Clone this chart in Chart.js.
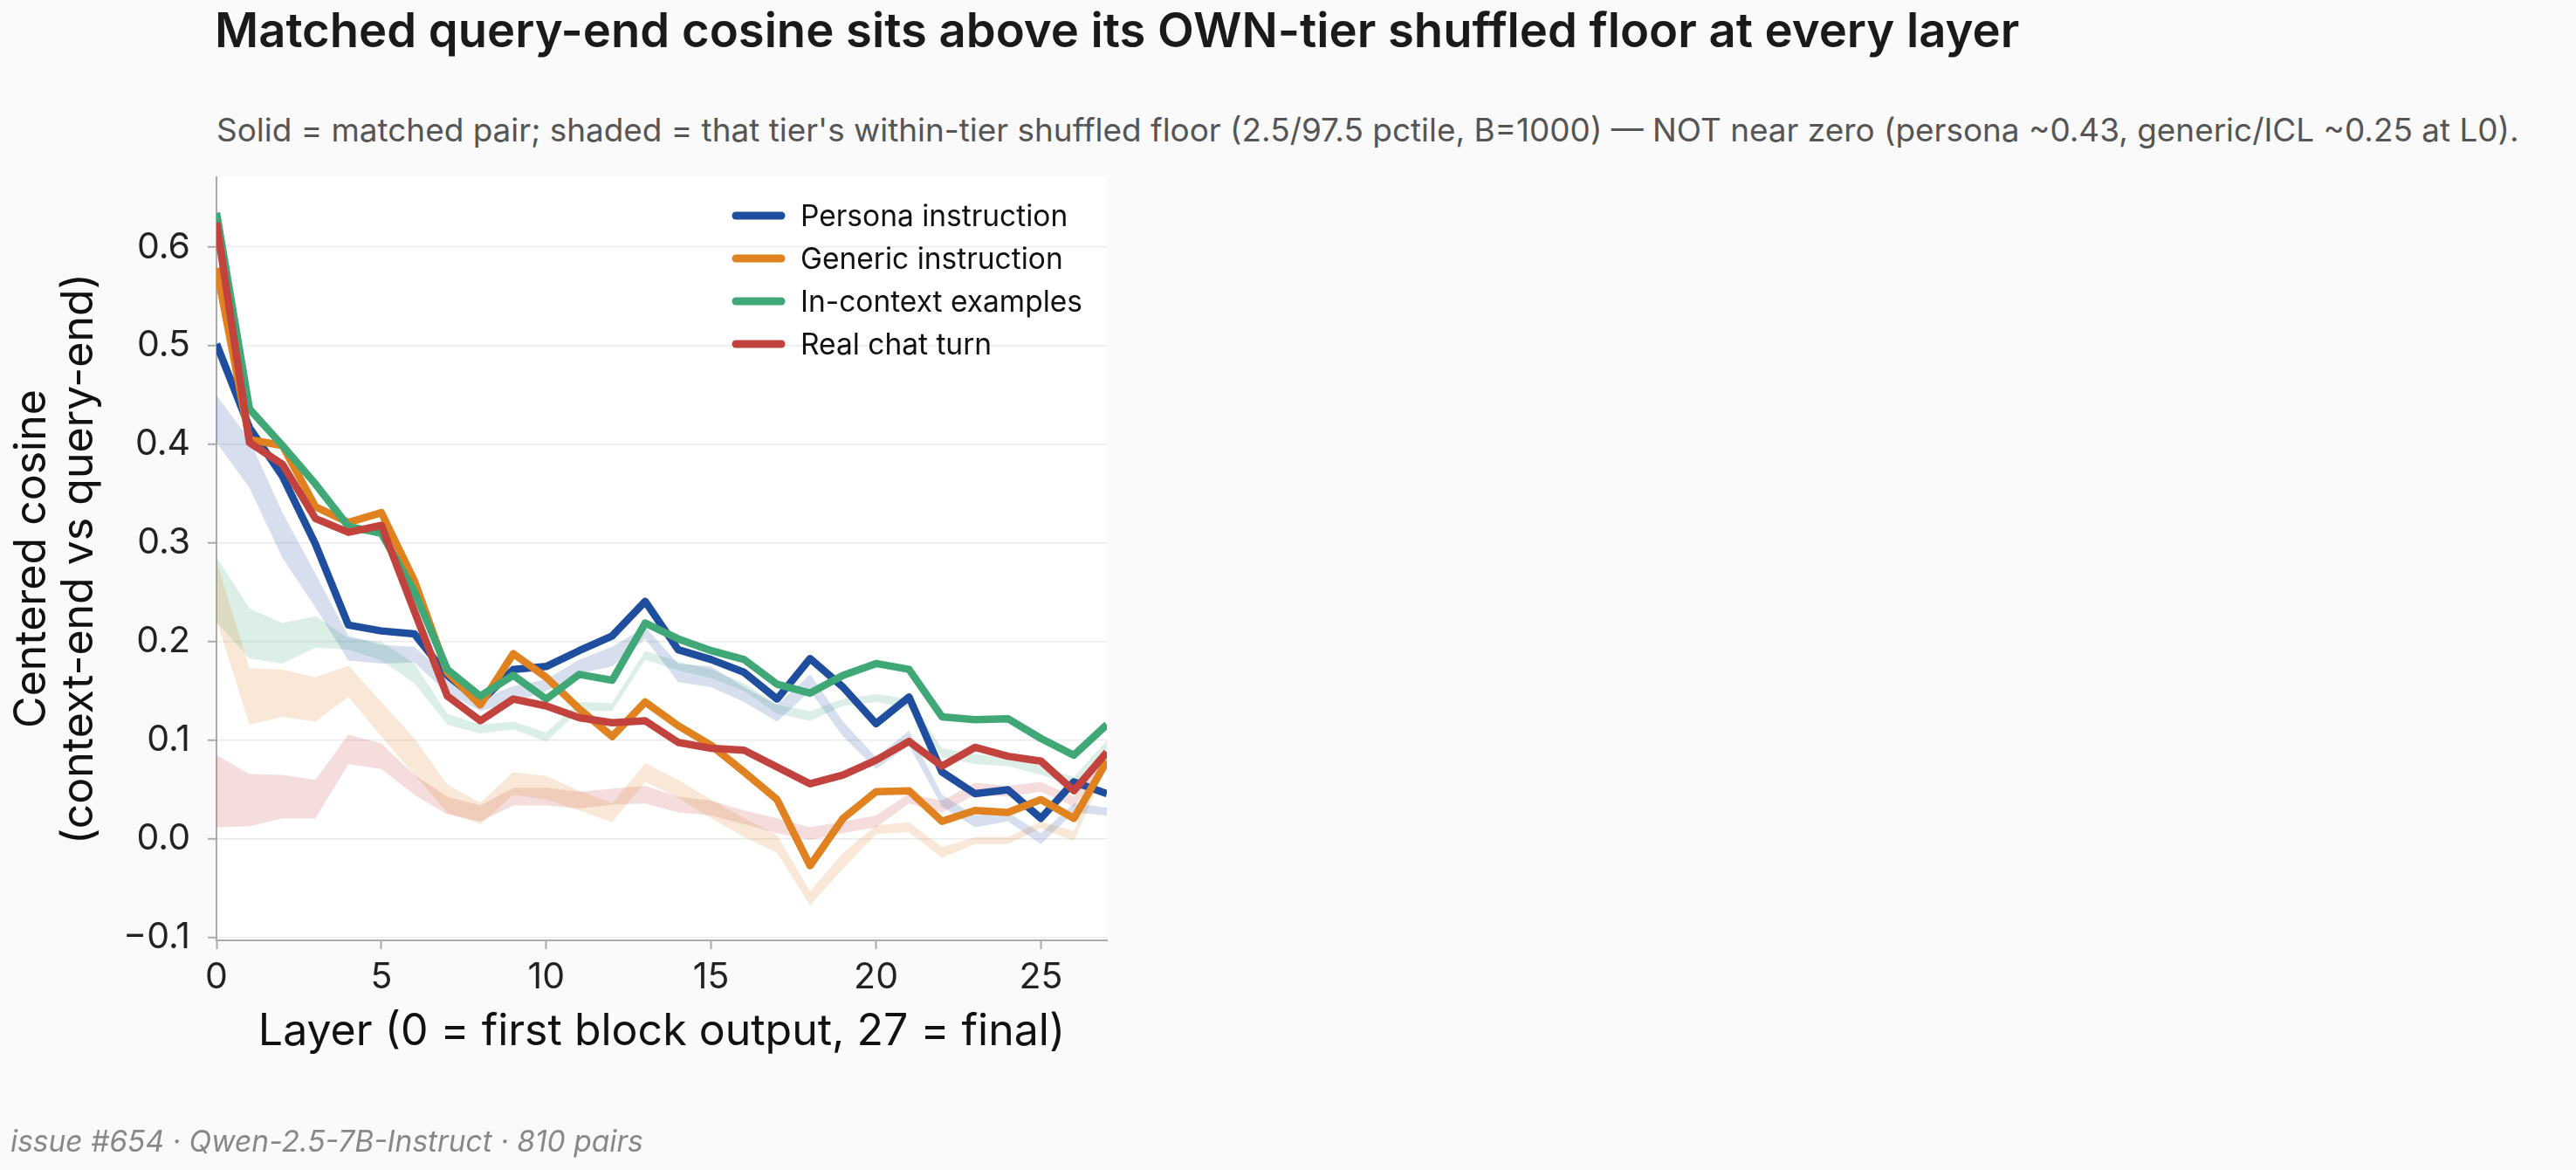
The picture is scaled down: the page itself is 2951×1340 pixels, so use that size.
<!DOCTYPE html>
<html>
<head>
<meta charset="utf-8">
<title>Matched query-end cosine</title>
<script src="https://cdn.jsdelivr.net/npm/chart.js@4.4.1/dist/chart.umd.min.js"></script>
<style>
  html, body { margin: 0; padding: 0; background: #fafafa; }
  body { width: 2951px; height: 1340px; position: relative; overflow: hidden; font-family: Inter, sans-serif; }
  .txt { position: absolute; line-height: 1; white-space: nowrap; }
  #title { left: 246px; top: 6px; font-size: 54px; font-weight: 600; color: #1a1a1a; }
  #subtitle { left: 248px; top: 130px; font-size: 38px; color: #555; }
  #footer { left: 12px; top: 1292px; font-size: 33px; font-style: italic; color: #888; }
  canvas { position: absolute; left: 0; top: 0; }
</style>
</head>
<body>
<div id="title" class="txt">Matched query-end cosine sits above its OWN-tier shuffled floor at every layer</div>
<div id="subtitle" class="txt">Solid = matched pair; shaded = that tier's within-tier shuffled floor (2.5/97.5 pctile, B=1000) — NOT near zero (persona ~0.43, generic/ICL ~0.25 at L0).</div>
<canvas id="myChart" width="2951" height="1340"></canvas>
<div id="footer" class="txt">issue #654 · Qwen-2.5-7B-Instruct · 810 pairs</div>
<script>
const layers = [0, 1, 2, 3, 4, 5, 6, 7, 8, 9, 10, 11, 12, 13, 14, 15, 16, 17, 18, 19, 20, 21, 22, 23, 24, 25, 26, 27];
const xTicks = [0, 5, 10, 15, 20, 25];
const yTicks = [-0.1, 0.0, 0.1, 0.2, 0.3, 0.4, 0.5, 0.6];

const seriesNames = ['Persona instruction', 'Generic instruction', 'In-context examples', 'Real chat turn'];
const seriesColors = ['#1f4e9e', '#e0821f', '#3fa876', '#c2423d'];
const bandColors = ['rgba(31,78,158,0.18)', 'rgba(224,130,31,0.18)', 'rgba(63,168,118,0.18)', 'rgba(194,66,61,0.18)'];

// matched-pair cosine per layer
const persona = [0.502, 0.417, 0.368, 0.299, 0.217, 0.211, 0.208, 0.166, 0.139, 0.172, 0.175, 0.191, 0.206, 0.241, 0.192, 0.182, 0.169, 0.142, 0.183, 0.154, 0.117, 0.144, 0.068, 0.046, 0.050, 0.021, 0.058, 0.046];
const generic = [0.579, 0.405, 0.399, 0.337, 0.321, 0.331, 0.262, 0.169, 0.136, 0.188, 0.164, 0.132, 0.104, 0.139, 0.115, 0.095, 0.068, 0.040, -0.027, 0.021, 0.048, 0.049, 0.018, 0.029, 0.027, 0.040, 0.021, 0.079];
const icl = [0.635, 0.436, 0.399, 0.360, 0.317, 0.310, 0.251, 0.172, 0.145, 0.166, 0.142, 0.167, 0.161, 0.219, 0.203, 0.191, 0.182, 0.157, 0.148, 0.166, 0.178, 0.172, 0.124, 0.121, 0.122, 0.102, 0.085, 0.116];
const chat = [0.625, 0.402, 0.380, 0.325, 0.311, 0.318, 0.231, 0.145, 0.120, 0.142, 0.135, 0.123, 0.118, 0.120, 0.098, 0.092, 0.090, 0.073, 0.056, 0.065, 0.080, 0.099, 0.074, 0.093, 0.084, 0.079, 0.049, 0.088];

// within-tier shuffled floor, 2.5 / 97.5 percentiles
const personaLo = [0.402, 0.356, 0.285, 0.235, 0.181, 0.178, 0.179, 0.148, 0.130, 0.138, 0.150, 0.168, 0.175, 0.203, 0.159, 0.154, 0.139, 0.119, 0.150, 0.104, 0.071, 0.095, 0.033, 0.012, 0.018, -0.005, 0.027, 0.024];
const personaHi = [0.450, 0.405, 0.331, 0.269, 0.206, 0.197, 0.195, 0.165, 0.142, 0.155, 0.162, 0.182, 0.195, 0.215, 0.178, 0.175, 0.154, 0.136, 0.167, 0.119, 0.083, 0.110, 0.045, 0.024, 0.027, 0.006, 0.036, 0.032];
const genericLo = [0.222, 0.116, 0.124, 0.119, 0.144, 0.104, 0.065, 0.027, 0.015, 0.045, 0.040, 0.029, 0.017, 0.058, 0.042, 0.021, 0.002, -0.014, -0.067, -0.030, 0.005, 0.007, -0.019, -0.005, -0.005, 0.011, -0.002, 0.074];
const genericHi = [0.282, 0.173, 0.172, 0.164, 0.176, 0.139, 0.102, 0.055, 0.037, 0.068, 0.064, 0.049, 0.036, 0.077, 0.060, 0.040, 0.021, 0.004, -0.053, -0.014, 0.014, 0.017, -0.008, 0.002, 0.002, 0.018, 0.008, 0.089];
const iclLo = [0.220, 0.183, 0.178, 0.194, 0.192, 0.181, 0.158, 0.116, 0.107, 0.111, 0.099, 0.130, 0.130, 0.182, 0.171, 0.163, 0.150, 0.127, 0.120, 0.135, 0.139, 0.133, 0.083, 0.076, 0.074, 0.065, 0.054, 0.091];
const iclHi = [0.286, 0.234, 0.219, 0.226, 0.204, 0.200, 0.178, 0.127, 0.116, 0.119, 0.108, 0.139, 0.138, 0.191, 0.180, 0.172, 0.158, 0.136, 0.130, 0.142, 0.147, 0.142, 0.092, 0.086, 0.083, 0.074, 0.063, 0.100];
const chatLo = [0.012, 0.013, 0.021, 0.021, 0.076, 0.071, 0.045, 0.025, 0.018, 0.034, 0.034, 0.031, 0.035, 0.036, 0.027, 0.024, 0.015, 0.006, -0.001, 0.006, 0.012, 0.036, 0.027, 0.045, 0.043, 0.048, 0.033, 0.074];
const chatHi = [0.085, 0.066, 0.065, 0.060, 0.106, 0.097, 0.065, 0.043, 0.034, 0.052, 0.052, 0.048, 0.051, 0.054, 0.043, 0.039, 0.029, 0.021, 0.012, 0.018, 0.024, 0.046, 0.039, 0.057, 0.054, 0.058, 0.043, 0.086];

const lines = [persona, generic, icl, chat];
const bandsLo = [personaLo, genericLo, iclLo, chatLo];
const bandsHi = [personaHi, genericHi, iclHi, chatHi];

// scale each header/footer line to the width it has in the reference, keep its baseline
function fitText(id, targetWidth, baseline) {
    var el = document.getElementById(id);
    var size = parseFloat(getComputedStyle(el).fontSize);
    var w = el.getBoundingClientRect().width;
    size = size * targetWidth / w;
    el.style.fontSize = size + 'px';
    el.style.top = (baseline - 0.864 * size) + 'px';
}
fitText('title', 2068, 54);
fitText('subtitle', 2638, 163);
fitText('footer', 725, 1320);

function pts(arr) {
    return arr.map(function (v, i) { return { x: layers[i], y: v }; });
}

var datasets = [];
for (var i = 0; i < 4; i++) {
    datasets.push({
        label: seriesNames[i] + ' floor lo',
        data: pts(bandsLo[i]),
        borderWidth: 0,
        pointRadius: 0,
        fill: false,
        clip: 0,
        order: 10
    });
    datasets.push({
        label: seriesNames[i] + ' floor hi',
        data: pts(bandsHi[i]),
        borderWidth: 0,
        pointRadius: 0,
        backgroundColor: bandColors[i],
        fill: '-1',
        clip: 0,
        order: 10
    });
}
for (var j = 0; j < 4; j++) {
    datasets.push({
        label: seriesNames[j],
        data: pts(lines[j]),
        borderColor: seriesColors[j],
        borderWidth: 8.5,
        borderJoinStyle: 'round',
        pointRadius: 0,
        fill: false,
        tension: 0,
        clip: 0,
        order: 4 - j
    });
}

// white plot area on the grey page
const plotBg = {
    id: 'plotBg',
    beforeDraw(chart) {
        const a = chart.chartArea;
        chart.ctx.save();
        chart.ctx.fillStyle = '#ffffff';
        chart.ctx.fillRect(a.left, a.top, a.right - a.left, a.bottom - a.top);
        chart.ctx.restore();
    }
};

// legend inside the axes, upper right, no frame
const insideLegend = {
    id: 'insideLegend',
    afterDraw(chart) {
        const ctx = chart.ctx;
        const a = chart.chartArea;
        ctx.save();
        ctx.font = '33.5px Inter';
        ctx.textBaseline = 'alphabetic';
        seriesNames.forEach(function (name, k) {
            const y = a.top + 44 + k * 49;
            ctx.strokeStyle = seriesColors[k];
            ctx.lineWidth = 9;
            ctx.lineCap = 'round';
            ctx.beginPath();
            ctx.moveTo(a.left + 595, y);
            ctx.lineTo(a.left + 647, y);
            ctx.stroke();
            ctx.fillStyle = '#111111';
            ctx.fillText(name, a.left + 669, y + 12);
        });
        ctx.restore();
    }
};

const config = {
    type: 'line',
    data: { datasets: datasets },
    options: {
        responsive: false,
        animation: false,
        events: [],
        layout: { padding: { left: 0, top: 203, right: 1683, bottom: 113 } },
        plugins: {
            legend: { display: false },
            tooltip: { enabled: false },
            title: { display: false }
        },
        scales: {
            x: {
                type: 'linear',
                min: 0,
                max: 27,
                afterBuildTicks: function (s) { s.ticks = xTicks.map(function (v) { return { value: v }; }); },
                afterFit: function (s) { s.height = 150; },
                ticks: {
                    font: { family: 'Inter', size: 41 },
                    color: '#222222',
                    padding: 8,
                    maxRotation: 0,
                    autoSkip: false,
                    callback: function (v) { return String(v); }
                },
                grid: { drawOnChartArea: false, tickLength: 10, tickColor: '#aaaaaa', tickWidth: 2 },
                border: { color: '#aaaaaa', width: 2 },
                title: {
                    display: true,
                    text: 'Layer (0 = first block output, 27 = final)',
                    font: { family: 'Inter', size: 50 },
                    color: '#111111',
                    padding: { top: 0, bottom: 15 }
                }
            },
            y: {
                type: 'linear',
                min: -0.1027,
                max: 0.671,
                afterBuildTicks: function (s) { s.ticks = yTicks.map(function (v) { return { value: v }; }); },
                afterFit: function (s) { s.width = 248; },
                ticks: {
                    font: { family: 'Inter', size: 41 },
                    color: '#222222',
                    padding: 20,
                    callback: function (v) { return v < 0 ? '\u2212' + Math.abs(v).toFixed(1) : v.toFixed(1); }
                },
                grid: { color: '#ebebeb', lineWidth: 1.5, tickLength: 10, tickColor: '#aaaaaa', tickWidth: 2 },
                border: { color: '#aaaaaa', width: 2 },
                title: {
                    display: true,
                    text: ['Centered cosine', '(context-end vs query-end)'],
                    font: { family: 'Inter', size: 50, lineHeight: 1.08 },
                    color: '#111111',
                    padding: { top: 10, bottom: 0 }
                }
            }
        }
    },
    plugins: [plotBg, insideLegend]
};

var myChart = new Chart(document.getElementById('myChart'), config);
</script>
</body>
</html>
